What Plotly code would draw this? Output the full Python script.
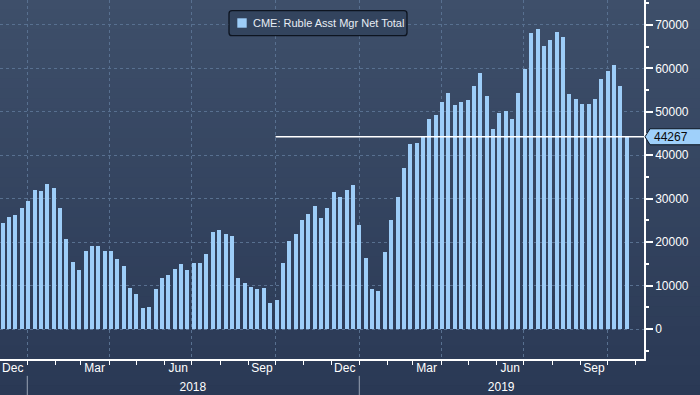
import plotly.graph_objects as go
import pandas as pd

# ---------------- data ----------------
series_name = "CME: Ruble Asst Mgr Net Total"
first_week = "2017-12-05"
values = [
    24500, 25800, 26200, 27800, 29500, 32000, 31800, 33400, 32400, 27800,
    20700, 15400, 13600, 18000, 19100, 19100, 18000, 18000, 16100, 14500,
    9400, 8100, 4800, 5100, 9200, 11700, 12400, 13800, 15000, 13600,
    15200, 15200, 17300, 22300, 22800, 21900, 21400, 11700, 10600, 9700,
    9200, 9400, 6000, 6700, 15200, 20300, 21900, 25100, 26500, 28300,
    25500, 27800, 31500, 30400, 32000, 33100, 23900, 16300, 9200, 8700,
    17700, 25100, 30400, 37100, 42600, 42800, 44200, 48400, 49300, 52300,
    54300, 51600, 52300, 52800, 56000, 59000, 53700, 46100, 49800, 50200,
    48400, 54400, 59900, 68200, 69100, 65200, 66600, 68400, 67300, 54100,
    53000, 51800, 51800, 53000, 57600, 59400, 60800, 56000, 44267,
]
dates = pd.date_range(first_week, periods=len(values), freq="7D")

y_tick_vals = [0, 10000, 20000, 30000, 40000, 50000, 60000, 70000]
quarter_starts = ["2018-01-01", "2018-04-01", "2018-07-01", "2018-10-01",
                  "2019-01-01", "2019-04-01", "2019-07-01", "2019-10-01"]
month_starts = [d.strftime("%Y-%m-%d") for d in pd.date_range("2017-12-01", "2019-11-01", freq="MS")]
month_label_dates = ["2017-12-16", "2018-03-16", "2018-06-16", "2018-09-16",
                     "2018-12-16", "2019-03-16", "2019-06-16", "2019-09-16"]
month_labels = ["Dec", "Mar", "Jun", "Sep", "Dec", "Mar", "Jun", "Sep"]
year_label_dates = ["2018-07-02", "2019-06-06"]
year_labels = ["2018", "2019"]
year_starts = ["2018-01-01", "2019-01-01"]
last_line_start = "2018-10-01"

# ---------------- styling ----------------
x_range = ["2017-12-02", "2019-11-10"]
y_range = [-6900, 75750]
bar_color = "#9dcdf8"
grid_color = "#587090"
font_family = "Liberation Sans, Arial, sans-serif"
day_ms = 86400000

fig = go.Figure()
fig.add_trace(go.Bar(
    x=dates, y=values, name=series_name,
    marker=dict(color=bar_color, line=dict(width=0)),
    width=4.4 * day_ms, showlegend=False,
))
# empty traces to bind the label axes
fig.add_trace(go.Scatter(x=[], y=[], xaxis="x2", showlegend=False, hoverinfo="skip"))
fig.add_trace(go.Scatter(x=[], y=[], xaxis="x3", showlegend=False, hoverinfo="skip"))

shapes = []
# background vertical gradient
n_bands = 40
top_rgb = (62, 79, 106)
bot_rgb = (42, 57, 85)
y_bottom, y_top = -0.102, 1.0
for i in range(n_bands):
    t = i / (n_bands - 1)
    c = tuple(round(top_rgb[k] + (bot_rgb[k] - top_rgb[k]) * t) for k in range(3))
    y1 = y_top - (y_top - y_bottom) * i / n_bands
    y0 = y_top - (y_top - y_bottom) * (i + 1) / n_bands - 0.003
    shapes.append(dict(type="rect", xref="paper", yref="paper", x0=-0.01, x1=1.1,
                       y0=y0, y1=y1 + 0.001, fillcolor="rgb(%d,%d,%d)" % c,
                       line=dict(width=0), layer="below"))
# year separators in the label band
for ys in year_starts:
    shapes.append(dict(type="line", xref="x", yref="paper", x0=ys, x1=ys,
                       y0=-0.047, y1=-0.102, line=dict(color="#9aa4b4", width=1)))
# last value line
shapes.append(dict(type="line", xref="x", yref="y", x0=last_line_start, x1=x_range[1],
                   y0=values[-1], y1=values[-1], line=dict(color="#ffffff", width=1.3),
                   layer="above"))
# last value tag
shapes.append(dict(type="path", xref="paper", yref="y", xsizemode="pixel", ysizemode="pixel",
                   xanchor=1, yanchor=values[-1],
                   path="M1,0 L6,8 L62,8 L62,-8 L6,-8 Z",
                   fillcolor="#9fd0fa", line=dict(color="#0e1622", width=1), layer="above"))

# legend box (Bloomberg style)
leg_x, leg_y = 0.3556, 0.9702
shapes.append(dict(type="path", xref="paper", yref="paper", xsizemode="pixel", ysizemode="pixel",
                   xanchor=leg_x, yanchor=leg_y,
                   path="M3,0 L175,0 Q178,0 178,-3 L178,-22 Q178,-25 175,-25 L3,-25 "
                        "Q0,-25 0,-22 L0,-3 Q0,0 3,0 Z",
                   fillcolor="#33445e", line=dict(color="#0d1420", width=1.3), layer="above"))
shapes.append(dict(type="rect", xref="paper", yref="paper", xsizemode="pixel", ysizemode="pixel",
                   xanchor=leg_x, yanchor=leg_y, x0=8.3, x1=17.7, y0=-7.6, y1=-17,
                   fillcolor=bar_color, line=dict(width=0), layer="above"))

annotations = [
    dict(xref="paper", yref="paper", x=leg_x, y=leg_y, xanchor="left", yanchor="middle",
         xshift=22, yshift=-12.5, text=series_name, showarrow=False,
         font=dict(family=font_family, size=11, color="#e8edf4")),
    dict(xref="paper", yref="y", x=1, y=values[-1], xanchor="left", yanchor="middle",
         xshift=8, text=f"{values[-1]}", showarrow=False,
         font=dict(family=font_family, size=12, color="#0a0a0a")),
]

fig.update_layout(
    width=700, height=395,
    margin=dict(l=0, r=56, t=0, b=36, pad=0),
    paper_bgcolor="#2b3a55",
    plot_bgcolor="rgba(0,0,0,0)",
    font=dict(family=font_family, size=12, color="#ffffff"),
    shapes=shapes,
    annotations=annotations,
    showlegend=False,
    xaxis=dict(
        type="date", range=x_range, tickmode="array", tickvals=quarter_starts,
        showticklabels=False, ticks="outside", ticklen=4, tickcolor="#ffffff", tickwidth=1,
        showgrid=True, gridcolor=grid_color, griddash="3px,3px", gridwidth=1,
        showline=True, linecolor="#ffffff", linewidth=1.5, zeroline=False,
        minor=dict(tickmode="array", tickvals=month_starts, ticks="outside", ticklen=4,
                   tickcolor="#ffffff", tickwidth=1, showgrid=False),
    ),
    xaxis2=dict(
        type="date", range=x_range, overlaying="x", anchor="y", side="bottom",
        tickmode="array", tickvals=month_label_dates, ticktext=month_labels,
        ticks="", showgrid=False, showline=False, zeroline=False,
        tickfont=dict(family=font_family, size=12, color="#ffffff"),
        ticklabelstandoff=0,
    ),
    xaxis3=dict(
        type="date", range=x_range, overlaying="x", anchor="y", side="bottom",
        tickmode="array", tickvals=year_label_dates, ticktext=year_labels,
        ticks="", showgrid=False, showline=False, zeroline=False,
        tickfont=dict(family=font_family, size=12, color="#ffffff"),
        ticklabelstandoff=19,
    ),
    yaxis=dict(
        side="right", range=y_range, tickmode="array", tickvals=y_tick_vals,
        tickformat="d", ticks="outside", ticklen=7, tickwidth=1.5, tickcolor="#ffffff",
        showline=True, linecolor="#ffffff", linewidth=1.5,
        showgrid=True, gridcolor=grid_color, griddash="3px,3px", gridwidth=1,
        zeroline=False,
        tickfont=dict(family=font_family, size=12, color="#ffffff"),
        minor=dict(dtick=5000, tick0=0, ticks="outside", ticklen=3, tickcolor="#ffffff",
                   showgrid=False),
    ),
    bargap=0,
)

fig.write_html(
    "out.html",
    config={"displayModeBar": False},
    post_script="document.body.style.margin='0';document.body.style.overflow='hidden';",
)
